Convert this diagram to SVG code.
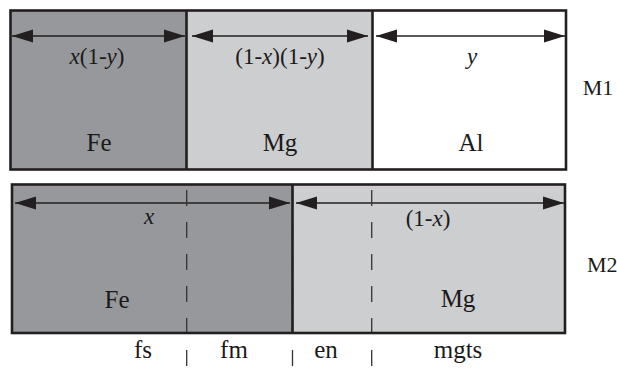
<svg xmlns="http://www.w3.org/2000/svg" width="617" height="371" viewBox="0 0 617 371">
<style>
text{font-family:"Liberation Serif","Times New Roman",Times,"Noto Serif","DejaVu Serif",serif;fill:#1a1a1a;text-anchor:middle}
.lbl{font-size:25px}
.dim{font-size:23px}
.side{font-size:22px}
.fe{fill:#97989b}
.mg{fill:#cdcecf}
.al{fill:#ffffff}
.border{fill:none;stroke:#231f20;stroke-width:2.6}
.div{stroke:#231f20;stroke-width:2.6}
.arr{stroke:#231f20;stroke-width:1.3;fill:none;marker-start:url(#ah);marker-end:url(#ah)}
.dash{stroke:#333;stroke-width:1.3;stroke-dasharray:16 16}
</style>
<defs>
<marker id="ah" markerUnits="userSpaceOnUse" markerWidth="22" markerHeight="14" refX="21" refY="6.5" orient="auto-start-reverse" viewBox="0 0 22 13">
<path d="M0,0 L21,6.5 L0,13 Z" fill="#231f20"/>
</marker>
</defs>
<g id="M1">
<g id="m1-fe"><rect class="fe" x="10.5" y="10.5" width="176" height="159"/><text class="lbl" x="99" y="151">Fe</text></g>
<g id="m1-mg"><rect class="mg" x="186.5" y="10.5" width="186" height="159"/><text class="lbl" x="280" y="151">Mg</text></g>
<g id="m1-al"><rect class="al" x="372.5" y="10.5" width="193.5" height="159"/><text class="lbl" x="471" y="151">Al</text></g>
<rect class="border" x="10.5" y="10.5" width="555.5" height="159"/>
<line class="div" x1="186.5" y1="10.5" x2="186.5" y2="169.5"/>
<line class="div" x1="372.5" y1="10.5" x2="372.5" y2="169.5"/>
<text class="side" x="598" y="95">M1</text>
</g>
<g id="M2">
<g id="m2-fe"><rect class="fe" x="12" y="184.5" width="280.5" height="148.5"/><text class="lbl" x="117" y="308">Fe</text></g>
<g id="m2-mg"><rect class="mg" x="292.5" y="184.5" width="272.5" height="148.5"/><text class="lbl" x="458" y="307">Mg</text></g>
<text class="side" x="587" y="272" style="text-anchor:start">M2</text>
</g>
<g id="connectors">
<line class="arr" x1="12" y1="36" x2="185" y2="36"/>
<line class="arr" x1="192" y1="36" x2="368" y2="36"/>
<line class="arr" x1="376" y1="36" x2="565" y2="36"/>
<line class="arr" x1="15" y1="203" x2="290" y2="203"/>
<line class="arr" x1="296" y1="203" x2="564" y2="203"/>
<line class="dash" x1="186.7" y1="190" x2="186.7" y2="368"/>
<line class="dash" x1="371.7" y1="190" x2="371.7" y2="368"/>
<line class="dash" x1="292.5" y1="190" x2="292.5" y2="368"/>
</g>
<g id="M2-border">
<rect class="border" x="12" y="184.5" width="553" height="148.5"/>
<line class="div" x1="292.5" y1="184.5" x2="292.5" y2="333"/>
</g>
<g id="labels">
<text class="dim" x="97" y="64"><tspan font-style="italic">x</tspan>(1-<tspan font-style="italic">y</tspan>)</text>
<text class="dim" x="280" y="64">(1-<tspan font-style="italic">x</tspan>)(1-<tspan font-style="italic">y</tspan>)</text>
<text class="dim" x="472" y="64" font-style="italic">y</text>
<text class="dim" x="149" y="224" font-style="italic">x</text>
<text class="dim" x="428" y="226">(1-<tspan font-style="italic">x</tspan>)</text>
<text class="lbl" x="143" y="358">fs</text>
<text class="lbl" x="234" y="358">fm</text>
<text class="lbl" x="326" y="358">en</text>
<text class="lbl" x="458" y="358">mgts</text>
</g>
</svg>
